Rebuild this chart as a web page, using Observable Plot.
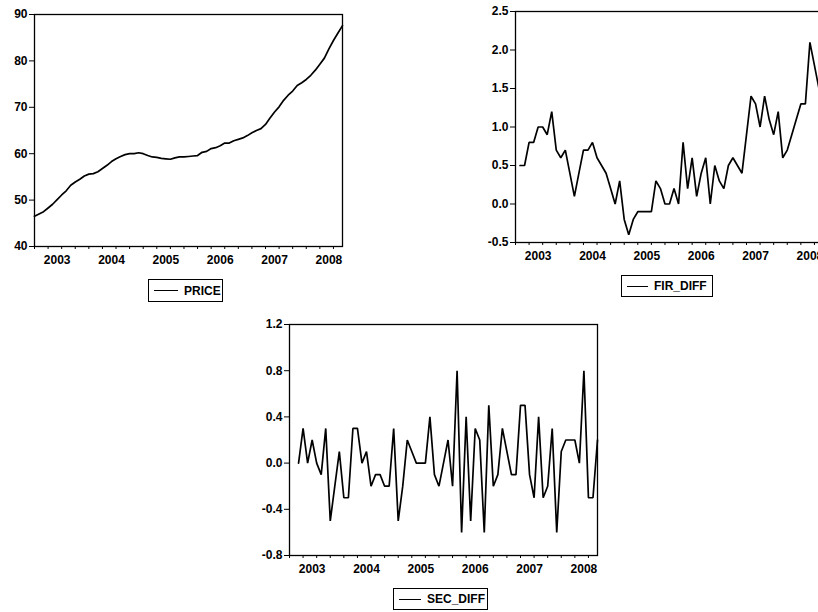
<!DOCTYPE html>
<html>
<head>
<meta charset="utf-8">
<script src="https://cdn.jsdelivr.net/npm/d3@7"></script>
<script src="https://cdn.jsdelivr.net/npm/@observablehq/plot@0.6"></script>
<style>
  html, body { margin: 0; padding: 0; background: white; }
  #wrap { position: relative; width: 818px; height: 612px; overflow: hidden; background: white;
          font-family: "Liberation Sans", Arial, sans-serif; }
  .panel { position: absolute; }
  .legend { position: absolute; box-sizing: border-box; border: 1px solid black; display: flex; align-items: center;
            font: bold 12px "Liberation Sans", Arial, sans-serif; color: black; background: white; white-space: nowrap; }
  .legend .sample { display: inline-block; height: 0; border-top: 1.6px solid black; margin-left: 5px; margin-right: 6px; }
</style>
</head>
<body>
<div id="wrap"></div>
<script>
// ---- data (monthly, index 0 = first PRICE observation, early 2003) ----
const yearLabels = ["2003", "2004", "2005", "2006", "2007", "2008"];
const seriesNames = ["PRICE", "FIR_DIFF", "SEC_DIFF"];

const price = [
  46.5, 47.0, 47.5, 48.3, 49.1, 50.1, 51.1, 52.0, 53.2, 53.9,
  54.5, 55.2, 55.6, 55.7, 56.1, 56.8, 57.5, 58.3, 58.9, 59.4,
  59.8, 60.0, 60.0, 60.2, 60.0, 59.6, 59.3, 59.2, 59.0, 58.9,
  58.8, 59.1, 59.3, 59.3, 59.4, 59.5, 59.6, 60.3, 60.5, 61.1,
  61.3, 61.7, 62.3, 62.3, 62.8, 63.1, 63.4, 63.9, 64.5, 65.0,
  65.4, 66.3, 67.7, 69.0, 70.1, 71.5, 72.6, 73.5, 74.7, 75.3,
  76.0, 76.9, 78.0, 79.3, 80.6, 82.6, 84.4, 86.0, 87.6
];
const firDiff = [
  0.5, 0.5, 0.8, 0.8, 1.0, 1.0, 0.9, 1.2, 0.7, 0.6,
  0.7, 0.4, 0.1, 0.4, 0.7, 0.7, 0.8, 0.6, 0.5, 0.4,
  0.2, 0.0, 0.3, -0.2, -0.4, -0.2, -0.1, -0.1, -0.1, -0.1,
  0.3, 0.2, 0.0, 0.0, 0.2, 0.0, 0.8, 0.2, 0.6, 0.1,
  0.4, 0.6, 0.0, 0.5, 0.3, 0.2, 0.5, 0.6, 0.5, 0.4,
  0.9, 1.4, 1.3, 1.0, 1.4, 1.1, 0.9, 1.2, 0.6, 0.7,
  0.9, 1.1, 1.3, 1.3, 2.1, 1.8, 1.5, 1.7
];
const secDiff = [
  0.0, 0.3, 0.0, 0.2, 0.0, -0.1, 0.3, -0.5, -0.2, 0.1,
  -0.3, -0.3, 0.3, 0.3, 0.0, 0.1, -0.2, -0.1, -0.1, -0.2,
  -0.2, 0.3, -0.5, -0.2, 0.2, 0.1, 0.0, 0.0, 0.0, 0.4,
  -0.1, -0.2, 0.0, 0.2, -0.2, 0.8, -0.6, 0.4, -0.5, 0.3,
  0.2, -0.6, 0.5, -0.2, -0.1, 0.3, 0.1, -0.1, -0.1, 0.5,
  0.5, -0.1, -0.3, 0.4, -0.3, -0.2, 0.3, -0.6, 0.1, 0.2,
  0.2, 0.2, 0.0, 0.8, -0.3, -0.3, 0.2
];
const priceTicks = [40, 50, 60, 70, 80, 90];
const firTicks = [-0.5, 0.0, 0.5, 1.0, 1.5, 2.0, 2.5];
const secTicks = [-0.8, -0.4, 0.0, 0.4, 0.8, 1.2];

// ---- layout helpers ----
const lastIndex = price.length - 1;
const quarterTicks = d3.range(0, lastIndex + 1, 3);
const yearLabelPos = yearLabels.map((_, k) => 12 * k + 5);
const FONT = "'Liberation Sans', Arial, sans-serif";

function panel({values, offset, yDomain, yTicks, fmt, width, height, ml, mr, mt, mb}) {
  return Plot.plot({
    width, height,
    marginLeft: ml, marginRight: mr, marginTop: mt, marginBottom: mb,
    style: {fontFamily: FONT, fontSize: "12px", fontWeight: "bold", color: "black", background: "transparent", overflow: "visible"},
    x: {domain: [0, lastIndex]},
    y: {domain: yDomain},
    marks: [
      Plot.axisY({ticks: yTicks, tickSize: 5, tickPadding: 2, tickFormat: fmt, label: null, fontSize: 12, fontWeight: "bold"}),
      Plot.axisX({ticks: quarterTicks, tickSize: 3, tickFormat: () => "", label: null}),
      Plot.axisX({ticks: yearLabelPos, tickSize: 0, tickPadding: 9, label: null, fontSize: 12, fontWeight: "bold",
                  tickFormat: d => yearLabels[Math.round((d - 5) / 12)]}),
      Plot.lineY(values, {x: (d, i) => i + offset, y: d => d, stroke: "black", strokeWidth: 1.7, strokeLinejoin: "miter"}),
      Plot.frame({stroke: "black", strokeWidth: 1.3})
    ]
  });
}

function place(el, left, top) {
  el.classList.add("panel");
  el.style.left = left + "px";
  el.style.top = top + "px";
  document.getElementById("wrap").appendChild(el);
}

function legend(name, left, top, width, height, sample) {
  const d = document.createElement("div");
  d.className = "legend";
  d.style.left = left + "px"; d.style.top = top + "px";
  d.style.width = width + "px"; d.style.height = height + "px";
  const s = document.createElement("span");
  s.className = "sample"; s.style.width = sample + "px";
  const t = document.createElement("span");
  t.textContent = name;
  d.appendChild(s); d.appendChild(t);
  document.getElementById("wrap").appendChild(d);
}

// Panel 1: PRICE
place(panel({values: price, offset: 0, yDomain: [40, 90], yTicks: priceTicks, fmt: d => String(d),
             width: 360, height: 275, ml: 34, mr: 18, mt: 14, mb: 29}), 0, 0);
// Panel 2: FIR_DIFF (runs past the right edge of the page)
place(panel({values: firDiff, offset: 1, yDomain: [-0.5, 2.5], yTicks: firTicks, fmt: d => d.toFixed(1),
             width: 380, height: 270, ml: 55, mr: 17, mt: 11, mb: 28}), 460, 0);
// Panel 3: SEC_DIFF
place(panel({values: secDiff, offset: 2, yDomain: [-0.8, 1.2], yTicks: secTicks, fmt: d => d.toFixed(1),
             width: 380, height: 280, ml: 49, mr: 23, mt: 24, mb: 25}), 240, 300);

legend(seriesNames[0], 148, 279, 75, 23, 24);
legend(seriesNames[1], 621, 275, 92, 22, 21);
legend(seriesNames[2], 393, 588, 95, 22, 22);
</script>
</body>
</html>
